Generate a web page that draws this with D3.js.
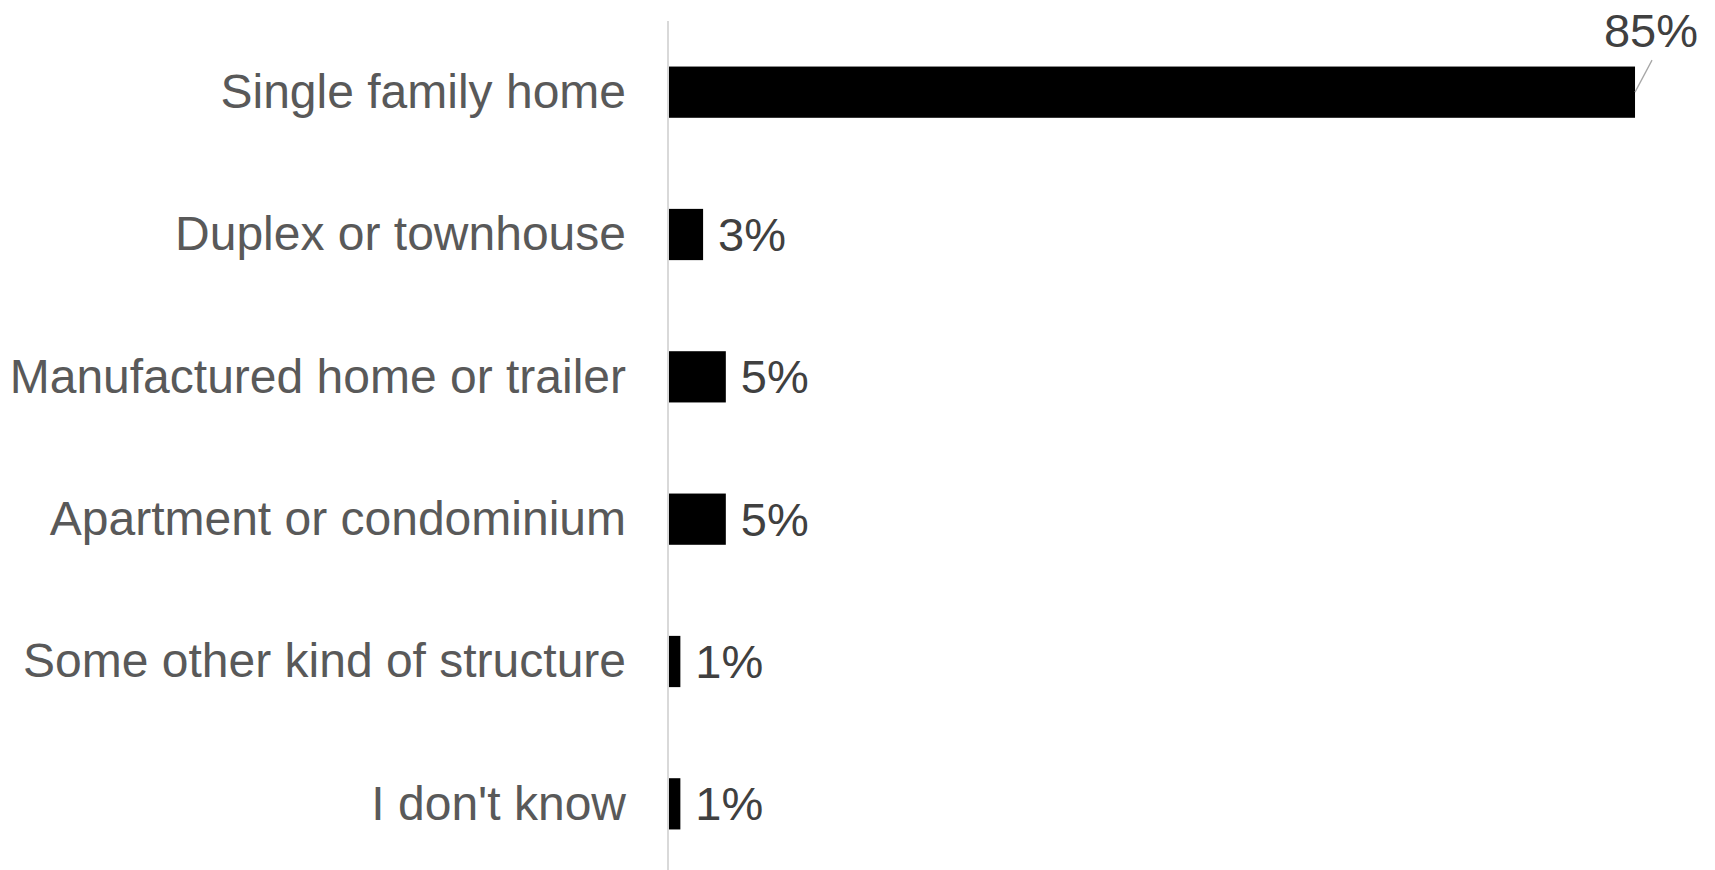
<!DOCTYPE html>
<html>
<head>
<meta charset="utf-8">
<script src="https://cdn.jsdelivr.net/npm/d3@7"></script>
<style>
  html, body { margin: 0; padding: 0; background: #fff; }
  svg { display: block; }
</style>
</head>
<body>
<svg id="chart" width="1715" height="870"></svg>
<script>
// Type of home respondents live in (share of respondents, %)
const categories = [
  "Single family home",
  "Duplex or townhouse",
  "Manufactured home or trailer",
  "Apartment or condominium",
  "Some other kind of structure",
  "I don't know"
];
const values = [85, 3, 5, 5, 1, 1];
const valueLabels = ["85%", "3%", "5%", "5%", "1%", "1%"];

const svg = d3.select("#chart");
const font = "'Liberation Sans', Arial, sans-serif";

const x = d3.scaleLinear().domain([0, 100]).range([669, 669 + 1136.5]);
const y = d3.scaleBand().domain(categories).range([21, 875])
  .paddingInner(0.64).paddingOuter(0.32);

const rows = categories.map((c, i) => ({ cat: c, value: values[i], label: valueLabels[i] }));

// vertical category axis line
svg.append("line")
  .attr("x1", 668).attr("x2", 668)
  .attr("y1", y.range()[0]).attr("y2", y.range()[1])
  .attr("stroke", "#d9d9d9").attr("stroke-width", 2);

// category labels
const yAxis = d3.axisLeft(y).tickSize(0).tickPadding(42);
const gy = svg.append("g").attr("transform", "translate(668,0)").call(yAxis);
gy.select(".domain").remove();
gy.selectAll("text")
  .attr("font-family", font)
  .attr("font-size", 48)
  .attr("fill", "#595959")
  .attr("dy", "0.33em");

// bars
svg.append("g").selectAll("rect")
  .data(rows)
  .join("rect")
  .attr("x", x(0))
  .attr("y", d => y(d.cat))
  .attr("width", d => x(d.value) - x(0))
  .attr("height", y.bandwidth())
  .attr("fill", "#000");

// value labels
const labels = svg.append("g").selectAll("g")
  .data(rows)
  .join("g");

labels.each(function (d, i) {
  const g = d3.select(this);
  const cy = y(d.cat) + y.bandwidth() / 2;
  const xe = x(d.value);
  if (i === 0) {
    // the longest bar carries its label above the end, joined by a leader line
    g.append("line")
      .attr("x1", xe).attr("y1", cy)
      .attr("x2", xe + 17).attr("y2", cy - 32)
      .attr("stroke", "#a6a6a6").attr("stroke-width", 1.3);
    g.append("text")
      .attr("x", xe + 16).attr("y", cy - 62)
      .attr("text-anchor", "middle")
      .attr("dy", "0.35em")
      .attr("font-family", font).attr("font-size", 47)
      .attr("fill", "#404040")
      .text(d.label);
  } else {
    g.append("text")
      .attr("x", xe + 15).attr("y", cy)
      .attr("dy", "0.35em")
      .attr("font-family", font).attr("font-size", 47)
      .attr("fill", "#404040")
      .text(d.label);
  }
});
</script>
</body>
</html>
